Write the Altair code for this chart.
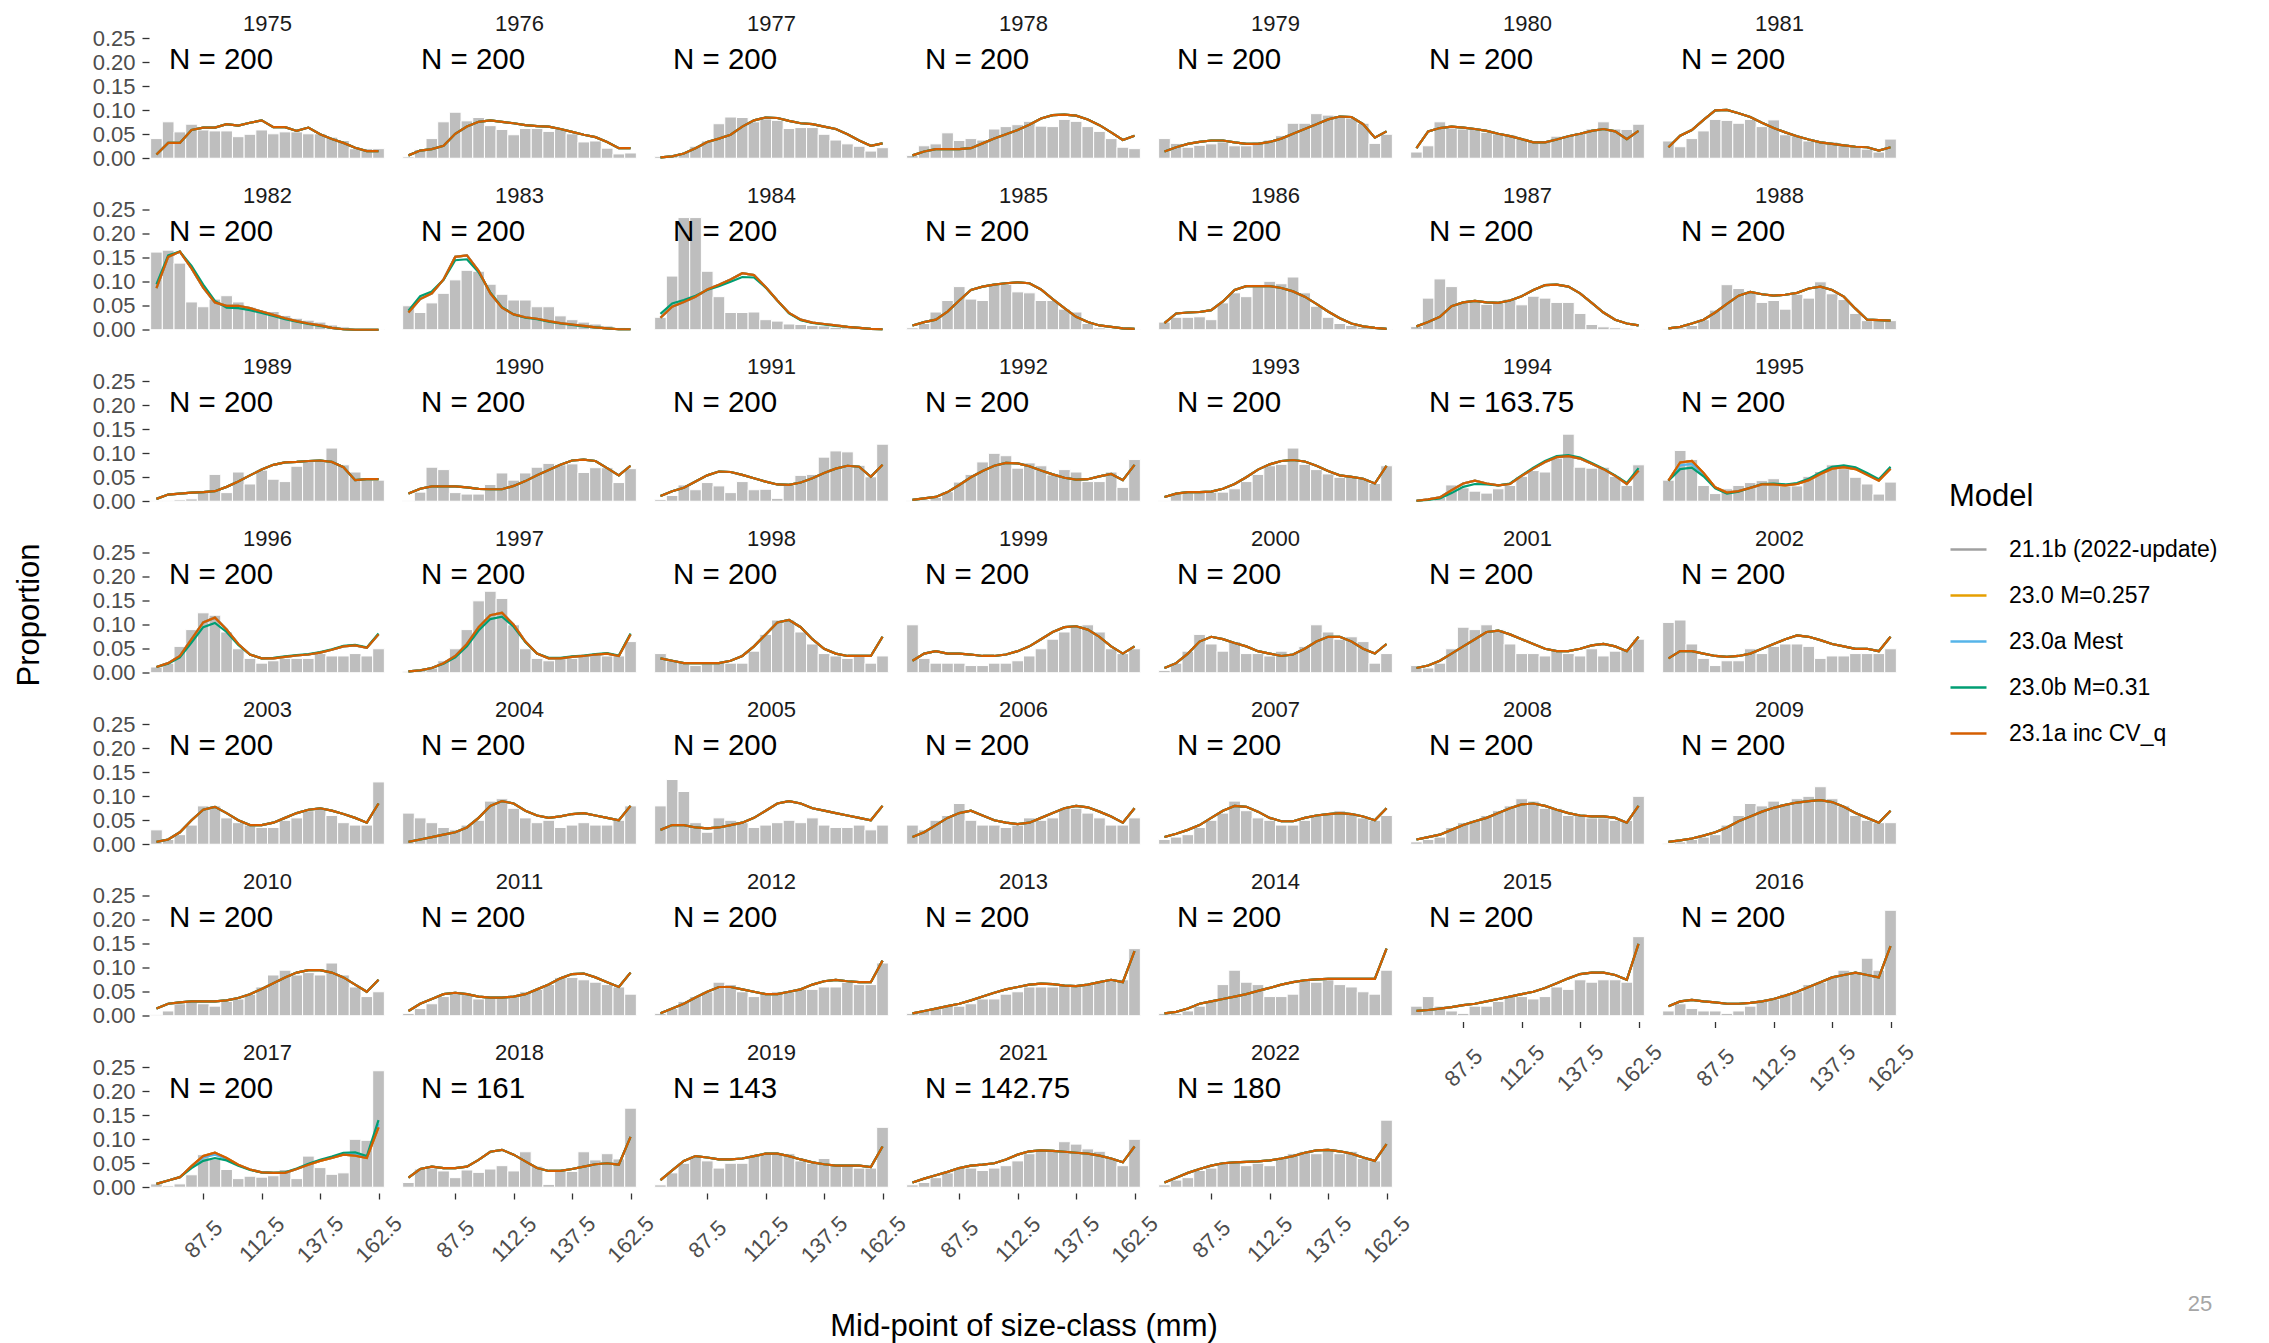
import altair as alt
import pandas as pd

FONT = "Liberation Sans"

SIZE_MID = [67.5, 72.5, 77.5, 82.5, 87.5, 92.5, 97.5, 102.5, 107.5, 112.5,
            117.5, 122.5, 127.5, 132.5, 137.5, 142.5, 147.5, 152.5, 157.5, 162.5]
YEARS = [1975, 1976, 1977, 1978, 1979, 1980, 1981,
         1982, 1983, 1984, 1985, 1986, 1987, 1988,
         1989, 1990, 1991, 1992, 1993, 1994, 1995,
         1996, 1997, 1998, 1999, 2000, 2001, 2002,
         2003, 2004, 2005, 2006, 2007, 2008, 2009,
         2010, 2011, 2012, 2013, 2014, 2015, 2016,
         2017, 2018, 2019, 2021, 2022]
N_SAMPLE = ["200", "200", "200", "200", "200", "200", "200",
            "200", "200", "200", "200", "200", "200", "200",
            "200", "200", "200", "200", "200", "163.75", "200",
            "200", "200", "200", "200", "200", "200", "200",
            "200", "200", "200", "200", "200", "200", "200",
            "200", "200", "200", "200", "200", "200", "200",
            "200", "161", "143", "142.75", "180"]
MODELS = ["21.1b (2022-update)", "23.0 M=0.257", "23.0a Mest", "23.0b M=0.31", "23.1a inc CV_q"]
MODEL_COLORS = ["#a0a0a0", "#E69F00", "#56B4E9", "#009E73", "#D55E00"]
X_TICKS = [87.5, 112.5, 137.5, 162.5]
Y_TICKS = [0.0, 0.05, 0.10, 0.15, 0.20, 0.25]

# observed proportions (bars) and fitted proportions (23.1a inc CV_q, shared by models that overlap it)
OBS_1975 = [0.041, 0.076, 0.055, 0.071, 0.059, 0.057, 0.057, 0.045, 0.050, 0.059, 0.051, 0.055, 0.055, 0.051, 0.051, 0.044, 0.037, 0.020, 0.020, 0.020]
FIT_1975 = [0.008, 0.032, 0.032, 0.059, 0.064, 0.064, 0.071, 0.068, 0.074, 0.079, 0.065, 0.065, 0.057, 0.064, 0.050, 0.040, 0.032, 0.022, 0.015, 0.015]
OBS_1976 = [0.003, 0.018, 0.041, 0.076, 0.096, 0.078, 0.085, 0.068, 0.060, 0.049, 0.062, 0.062, 0.056, 0.061, 0.051, 0.034, 0.036, 0.021, 0.009, 0.011]
FIT_1976 = [0.006, 0.016, 0.019, 0.026, 0.051, 0.066, 0.076, 0.079, 0.076, 0.073, 0.069, 0.067, 0.066, 0.061, 0.055, 0.049, 0.044, 0.034, 0.021, 0.021]
OBS_1977 = [0.004, 0.006, 0.012, 0.025, 0.036, 0.072, 0.086, 0.085, 0.076, 0.082, 0.079, 0.062, 0.064, 0.064, 0.050, 0.038, 0.030, 0.025, 0.015, 0.022]
FIT_1977 = [0.002, 0.004, 0.010, 0.021, 0.034, 0.041, 0.049, 0.066, 0.079, 0.085, 0.084, 0.078, 0.073, 0.071, 0.066, 0.061, 0.050, 0.037, 0.026, 0.031]
OBS_1978 = [0.006, 0.026, 0.030, 0.053, 0.037, 0.041, 0.038, 0.061, 0.066, 0.070, 0.077, 0.067, 0.066, 0.081, 0.077, 0.066, 0.056, 0.041, 0.023, 0.020]
FIT_1978 = [0.006, 0.014, 0.019, 0.019, 0.019, 0.021, 0.031, 0.041, 0.050, 0.059, 0.070, 0.083, 0.090, 0.091, 0.089, 0.081, 0.069, 0.054, 0.038, 0.047]
OBS_1979 = [0.041, 0.031, 0.023, 0.027, 0.030, 0.034, 0.026, 0.026, 0.034, 0.038, 0.047, 0.073, 0.073, 0.093, 0.090, 0.086, 0.084, 0.073, 0.031, 0.050]
FIT_1979 = [0.014, 0.023, 0.030, 0.034, 0.037, 0.037, 0.033, 0.030, 0.030, 0.034, 0.041, 0.051, 0.061, 0.071, 0.081, 0.087, 0.086, 0.071, 0.043, 0.056]
OBS_1980 = [0.013, 0.026, 0.076, 0.063, 0.061, 0.061, 0.054, 0.051, 0.049, 0.041, 0.034, 0.034, 0.046, 0.047, 0.054, 0.061, 0.076, 0.061, 0.060, 0.071]
FIT_1980 = [0.021, 0.056, 0.063, 0.066, 0.064, 0.061, 0.057, 0.051, 0.046, 0.040, 0.033, 0.033, 0.039, 0.046, 0.051, 0.057, 0.061, 0.056, 0.040, 0.057]
OBS_1981 = [0.036, 0.024, 0.041, 0.057, 0.081, 0.079, 0.073, 0.081, 0.066, 0.080, 0.049, 0.047, 0.036, 0.036, 0.034, 0.030, 0.027, 0.019, 0.013, 0.040]
FIT_1981 = [0.023, 0.047, 0.059, 0.080, 0.100, 0.101, 0.094, 0.086, 0.074, 0.063, 0.054, 0.046, 0.039, 0.033, 0.030, 0.027, 0.024, 0.023, 0.016, 0.023]
OBS_1982 = [0.162, 0.166, 0.139, 0.058, 0.048, 0.064, 0.071, 0.058, 0.047, 0.038, 0.038, 0.030, 0.024, 0.020, 0.016, 0.010, 0.006, 0.001, 0.001, 0.001]
FIT_1982 = [0.087, 0.152, 0.163, 0.128, 0.088, 0.057, 0.050, 0.050, 0.045, 0.038, 0.031, 0.024, 0.018, 0.013, 0.009, 0.004, 0.001, 0.000, 0.000, 0.000]
OBS_1983 = [0.050, 0.036, 0.056, 0.076, 0.104, 0.124, 0.122, 0.095, 0.074, 0.062, 0.062, 0.048, 0.048, 0.029, 0.021, 0.016, 0.012, 0.008, 0.004, 0.001]
FIT_1983 = [0.036, 0.064, 0.076, 0.105, 0.152, 0.155, 0.123, 0.076, 0.046, 0.032, 0.026, 0.023, 0.018, 0.014, 0.011, 0.008, 0.005, 0.003, 0.001, 0.001]
OBS_1984 = [0.026, 0.112, 0.234, 0.234, 0.122, 0.069, 0.036, 0.036, 0.037, 0.021, 0.018, 0.012, 0.011, 0.009, 0.008, 0.005, 0.004, 0.002, 0.001, 0.001]
FIT_1984 = [0.025, 0.048, 0.058, 0.069, 0.084, 0.094, 0.105, 0.118, 0.114, 0.089, 0.061, 0.035, 0.021, 0.015, 0.012, 0.009, 0.006, 0.004, 0.002, 0.001]
OBS_1985 = [0.004, 0.013, 0.037, 0.061, 0.090, 0.064, 0.061, 0.093, 0.095, 0.079, 0.077, 0.061, 0.061, 0.043, 0.037, 0.013, 0.004, 0.002, 0.001, 0.001]
FIT_1985 = [0.009, 0.016, 0.021, 0.038, 0.061, 0.083, 0.090, 0.094, 0.097, 0.099, 0.097, 0.084, 0.064, 0.045, 0.027, 0.016, 0.009, 0.006, 0.003, 0.002]
OBS_1986 = [0.016, 0.026, 0.026, 0.027, 0.021, 0.056, 0.077, 0.069, 0.094, 0.101, 0.096, 0.110, 0.077, 0.049, 0.026, 0.013, 0.009, 0.005, 0.002, 0.001]
FIT_1986 = [0.014, 0.034, 0.036, 0.037, 0.041, 0.059, 0.083, 0.091, 0.091, 0.091, 0.087, 0.080, 0.069, 0.054, 0.038, 0.024, 0.013, 0.007, 0.004, 0.002]
OBS_1987 = [0.007, 0.066, 0.106, 0.090, 0.057, 0.061, 0.053, 0.056, 0.064, 0.052, 0.070, 0.066, 0.057, 0.057, 0.034, 0.011, 0.006, 0.004, 0.003, 0.001]
FIT_1987 = [0.007, 0.016, 0.027, 0.049, 0.057, 0.060, 0.057, 0.056, 0.061, 0.070, 0.083, 0.093, 0.094, 0.090, 0.076, 0.056, 0.036, 0.021, 0.013, 0.009]
OBS_1988 = [0.002, 0.004, 0.009, 0.021, 0.041, 0.094, 0.086, 0.080, 0.057, 0.061, 0.043, 0.074, 0.066, 0.100, 0.075, 0.063, 0.034, 0.019, 0.019, 0.019]
FIT_1988 = [0.003, 0.006, 0.013, 0.021, 0.036, 0.054, 0.071, 0.079, 0.074, 0.071, 0.073, 0.077, 0.086, 0.090, 0.083, 0.069, 0.044, 0.021, 0.020, 0.019]
OBS_1989 = [0.001, 0.001, 0.003, 0.005, 0.022, 0.056, 0.018, 0.061, 0.036, 0.065, 0.046, 0.041, 0.073, 0.085, 0.085, 0.111, 0.076, 0.061, 0.048, 0.044]
FIT_1989 = [0.005, 0.014, 0.016, 0.018, 0.019, 0.021, 0.030, 0.041, 0.054, 0.066, 0.076, 0.081, 0.082, 0.084, 0.085, 0.082, 0.071, 0.044, 0.046, 0.046]
OBS_1990 = [0.001, 0.019, 0.071, 0.066, 0.018, 0.015, 0.015, 0.035, 0.059, 0.044, 0.059, 0.071, 0.079, 0.076, 0.078, 0.060, 0.070, 0.070, 0.039, 0.068]
FIT_1990 = [0.016, 0.026, 0.031, 0.031, 0.031, 0.029, 0.026, 0.025, 0.025, 0.032, 0.042, 0.054, 0.065, 0.076, 0.085, 0.087, 0.084, 0.069, 0.054, 0.074]
OBS_1991 = [0.004, 0.012, 0.034, 0.024, 0.039, 0.032, 0.018, 0.041, 0.024, 0.025, 0.006, 0.034, 0.054, 0.056, 0.092, 0.105, 0.103, 0.075, 0.051, 0.119]
FIT_1991 = [0.011, 0.021, 0.028, 0.041, 0.054, 0.062, 0.061, 0.055, 0.048, 0.041, 0.035, 0.034, 0.039, 0.048, 0.059, 0.068, 0.074, 0.072, 0.051, 0.076]
OBS_1992 = [0.001, 0.003, 0.008, 0.020, 0.040, 0.056, 0.082, 0.100, 0.095, 0.069, 0.080, 0.074, 0.055, 0.066, 0.061, 0.041, 0.041, 0.061, 0.029, 0.087]
FIT_1992 = [0.003, 0.006, 0.009, 0.019, 0.034, 0.050, 0.063, 0.074, 0.080, 0.079, 0.073, 0.064, 0.056, 0.049, 0.045, 0.046, 0.052, 0.057, 0.044, 0.076]
OBS_1993 = [0.001, 0.014, 0.021, 0.019, 0.019, 0.019, 0.026, 0.041, 0.056, 0.074, 0.077, 0.111, 0.077, 0.066, 0.057, 0.050, 0.050, 0.047, 0.037, 0.074]
FIT_1993 = [0.009, 0.016, 0.019, 0.019, 0.020, 0.026, 0.036, 0.050, 0.066, 0.077, 0.084, 0.086, 0.083, 0.074, 0.063, 0.054, 0.051, 0.047, 0.037, 0.074]
OBS_1994 = [0.001, 0.002, 0.008, 0.034, 0.028, 0.021, 0.017, 0.026, 0.033, 0.052, 0.064, 0.061, 0.090, 0.140, 0.071, 0.069, 0.071, 0.052, 0.033, 0.076]
FIT_1994 = [0.001, 0.004, 0.008, 0.023, 0.037, 0.043, 0.037, 0.033, 0.036, 0.053, 0.068, 0.082, 0.092, 0.094, 0.089, 0.078, 0.067, 0.053, 0.036, 0.064]
OBS_1995 = [0.044, 0.106, 0.087, 0.033, 0.016, 0.026, 0.033, 0.039, 0.043, 0.047, 0.032, 0.032, 0.052, 0.062, 0.076, 0.068, 0.050, 0.036, 0.015, 0.040]
FIT_1995 = [0.043, 0.081, 0.084, 0.059, 0.029, 0.018, 0.021, 0.028, 0.035, 0.035, 0.033, 0.036, 0.044, 0.057, 0.068, 0.071, 0.067, 0.055, 0.043, 0.068]
OBS_1996 = [0.012, 0.020, 0.055, 0.090, 0.125, 0.120, 0.085, 0.050, 0.030, 0.020, 0.025, 0.030, 0.030, 0.030, 0.040, 0.035, 0.035, 0.040, 0.035, 0.050]
FIT_1996 = [0.012, 0.020, 0.035, 0.070, 0.105, 0.115, 0.090, 0.060, 0.038, 0.030, 0.030, 0.033, 0.036, 0.038, 0.042, 0.048, 0.055, 0.057, 0.052, 0.080]
OBS_1997 = [0.003, 0.005, 0.010, 0.025, 0.050, 0.090, 0.150, 0.170, 0.155, 0.100, 0.050, 0.030, 0.025, 0.030, 0.030, 0.035, 0.040, 0.035, 0.035, 0.065]
FIT_1997 = [0.003, 0.005, 0.010, 0.020, 0.035, 0.060, 0.095, 0.120, 0.125, 0.100, 0.065, 0.040, 0.030, 0.030, 0.033, 0.035, 0.038, 0.040, 0.035, 0.080]
OBS_1998 = [0.040, 0.025, 0.020, 0.015, 0.020, 0.020, 0.020, 0.020, 0.045, 0.080, 0.110, 0.110, 0.085, 0.060, 0.040, 0.035, 0.030, 0.035, 0.020, 0.035]
FIT_1998 = [0.030, 0.025, 0.020, 0.020, 0.020, 0.020, 0.025, 0.035, 0.055, 0.080, 0.105, 0.110, 0.095, 0.070, 0.050, 0.040, 0.035, 0.035, 0.035, 0.075]
OBS_1999 = [0.100, 0.030, 0.020, 0.020, 0.020, 0.015, 0.015, 0.020, 0.020, 0.025, 0.035, 0.050, 0.070, 0.085, 0.095, 0.100, 0.085, 0.050, 0.040, 0.050]
FIT_1999 = [0.025, 0.040, 0.045, 0.040, 0.040, 0.038, 0.035, 0.035, 0.038, 0.045, 0.055, 0.070, 0.085, 0.095, 0.097, 0.090, 0.075, 0.055, 0.040, 0.055]
OBS_2000 = [0.005, 0.020, 0.045, 0.080, 0.060, 0.045, 0.065, 0.040, 0.040, 0.035, 0.045, 0.040, 0.055, 0.100, 0.085, 0.070, 0.075, 0.065, 0.020, 0.040]
FIT_2000 = [0.010, 0.020, 0.040, 0.065, 0.075, 0.070, 0.062, 0.055, 0.045, 0.040, 0.035, 0.038, 0.050, 0.065, 0.075, 0.075, 0.065, 0.050, 0.040, 0.060]
OBS_2001 = [0.015, 0.010, 0.020, 0.050, 0.095, 0.090, 0.100, 0.090, 0.060, 0.040, 0.040, 0.035, 0.045, 0.040, 0.035, 0.050, 0.035, 0.045, 0.050, 0.070]
FIT_2001 = [0.010, 0.015, 0.025, 0.040, 0.055, 0.070, 0.085, 0.088, 0.080, 0.070, 0.060, 0.050, 0.045, 0.045, 0.050, 0.057, 0.060, 0.055, 0.045, 0.075]
OBS_2002 = [0.105, 0.110, 0.060, 0.030, 0.015, 0.025, 0.025, 0.050, 0.040, 0.055, 0.060, 0.060, 0.055, 0.030, 0.035, 0.035, 0.040, 0.040, 0.040, 0.050]
FIT_2002 = [0.030, 0.045, 0.045, 0.040, 0.035, 0.033, 0.035, 0.040, 0.050, 0.060, 0.070, 0.078, 0.075, 0.068, 0.060, 0.055, 0.050, 0.050, 0.045, 0.075]
OBS_2003 = [0.030, 0.010, 0.020, 0.040, 0.080, 0.080, 0.055, 0.045, 0.040, 0.035, 0.035, 0.050, 0.055, 0.070, 0.075, 0.060, 0.045, 0.040, 0.040, 0.130]
FIT_2003 = [0.005, 0.010, 0.025, 0.050, 0.072, 0.078, 0.065, 0.050, 0.040, 0.040, 0.045, 0.055, 0.065, 0.072, 0.075, 0.070, 0.063, 0.055, 0.045, 0.085]
OBS_2004 = [0.065, 0.055, 0.045, 0.035, 0.030, 0.040, 0.050, 0.090, 0.095, 0.075, 0.055, 0.045, 0.050, 0.035, 0.040, 0.045, 0.040, 0.040, 0.050, 0.080]
FIT_2004 = [0.005, 0.010, 0.015, 0.020, 0.025, 0.035, 0.055, 0.080, 0.090, 0.085, 0.070, 0.060, 0.055, 0.058, 0.063, 0.065, 0.060, 0.055, 0.050, 0.080]
OBS_2005 = [0.080, 0.135, 0.110, 0.045, 0.025, 0.055, 0.050, 0.045, 0.035, 0.040, 0.045, 0.050, 0.045, 0.055, 0.040, 0.035, 0.035, 0.040, 0.030, 0.040]
FIT_2005 = [0.030, 0.040, 0.040, 0.035, 0.033, 0.035, 0.040, 0.045, 0.055, 0.070, 0.085, 0.090, 0.085, 0.075, 0.070, 0.065, 0.060, 0.055, 0.050, 0.080]
OBS_2006 = [0.040, 0.030, 0.050, 0.060, 0.085, 0.050, 0.040, 0.040, 0.035, 0.040, 0.055, 0.050, 0.055, 0.075, 0.075, 0.065, 0.055, 0.040, 0.040, 0.055]
FIT_2006 = [0.015, 0.025, 0.040, 0.055, 0.065, 0.070, 0.060, 0.050, 0.045, 0.042, 0.045, 0.055, 0.065, 0.075, 0.080, 0.077, 0.068, 0.058, 0.045, 0.075]
OBS_2007 = [0.010, 0.015, 0.020, 0.035, 0.050, 0.065, 0.090, 0.070, 0.055, 0.050, 0.040, 0.040, 0.050, 0.060, 0.065, 0.070, 0.065, 0.055, 0.050, 0.060]
FIT_2007 = [0.015, 0.022, 0.030, 0.040, 0.055, 0.070, 0.080, 0.078, 0.068, 0.055, 0.048, 0.048, 0.055, 0.060, 0.063, 0.065, 0.063, 0.058, 0.050, 0.075]
OBS_2008 = [0.005, 0.010, 0.015, 0.035, 0.045, 0.050, 0.060, 0.070, 0.080, 0.095, 0.090, 0.075, 0.075, 0.060, 0.060, 0.055, 0.055, 0.050, 0.050, 0.100]
FIT_2008 = [0.010, 0.015, 0.020, 0.030, 0.040, 0.048, 0.055, 0.065, 0.075, 0.083, 0.085, 0.080, 0.072, 0.065, 0.060, 0.058, 0.058, 0.055, 0.045, 0.080]
OBS_2009 = [0.002, 0.005, 0.010, 0.015, 0.020, 0.040, 0.060, 0.085, 0.080, 0.090, 0.085, 0.095, 0.100, 0.120, 0.095, 0.080, 0.060, 0.050, 0.045, 0.045]
FIT_2009 = [0.005, 0.008, 0.012, 0.018, 0.025, 0.035, 0.048, 0.058, 0.068, 0.076, 0.082, 0.087, 0.090, 0.092, 0.088, 0.078, 0.065, 0.055, 0.045, 0.070]
OBS_2010 = [0.002, 0.010, 0.025, 0.030, 0.025, 0.020, 0.030, 0.035, 0.045, 0.060, 0.085, 0.095, 0.085, 0.090, 0.085, 0.110, 0.085, 0.060, 0.040, 0.050]
FIT_2010 = [0.015, 0.025, 0.028, 0.030, 0.030, 0.030, 0.032, 0.037, 0.045, 0.056, 0.068, 0.080, 0.090, 0.095, 0.095, 0.090, 0.080, 0.065, 0.050, 0.075]
OBS_2011 = [0.005, 0.015, 0.025, 0.040, 0.050, 0.045, 0.035, 0.040, 0.040, 0.040, 0.050, 0.055, 0.065, 0.080, 0.080, 0.075, 0.070, 0.065, 0.060, 0.045]
FIT_2011 = [0.010, 0.025, 0.035, 0.045, 0.048, 0.045, 0.040, 0.038, 0.038, 0.040, 0.045, 0.055, 0.065, 0.078, 0.087, 0.088, 0.080, 0.070, 0.060, 0.090]
OBS_2012 = [0.005, 0.015, 0.030, 0.040, 0.050, 0.070, 0.065, 0.050, 0.040, 0.045, 0.050, 0.050, 0.055, 0.055, 0.060, 0.060, 0.070, 0.065, 0.065, 0.110]
FIT_2012 = [0.005, 0.015, 0.025, 0.038, 0.050, 0.060, 0.060, 0.055, 0.050, 0.045, 0.045, 0.050, 0.055, 0.065, 0.072, 0.075, 0.072, 0.070, 0.070, 0.115]
OBS_2013 = [0.005, 0.010, 0.015, 0.020, 0.020, 0.025, 0.035, 0.035, 0.045, 0.050, 0.060, 0.060, 0.060, 0.065, 0.065, 0.065, 0.070, 0.075, 0.075, 0.140]
FIT_2013 = [0.005, 0.010, 0.015, 0.020, 0.025, 0.032, 0.040, 0.048, 0.055, 0.060, 0.065, 0.067, 0.066, 0.063, 0.062, 0.065, 0.070, 0.075, 0.070, 0.135]
OBS_2014 = [0.005, 0.005, 0.010, 0.020, 0.030, 0.065, 0.095, 0.070, 0.065, 0.040, 0.040, 0.045, 0.075, 0.070, 0.075, 0.065, 0.060, 0.050, 0.045, 0.095]
FIT_2014 = [0.005, 0.008, 0.015, 0.025, 0.030, 0.035, 0.040, 0.045, 0.052, 0.058, 0.065, 0.070, 0.074, 0.076, 0.077, 0.077, 0.077, 0.077, 0.077, 0.140]
OBS_2015 = [0.020, 0.040, 0.020, 0.010, 0.005, 0.020, 0.020, 0.030, 0.040, 0.040, 0.035, 0.040, 0.060, 0.055, 0.075, 0.070, 0.075, 0.075, 0.070, 0.165]
FIT_2015 = [0.010, 0.012, 0.015, 0.018, 0.022, 0.025, 0.030, 0.035, 0.040, 0.045, 0.050, 0.058, 0.068, 0.078, 0.087, 0.090, 0.090, 0.085, 0.075, 0.150]
OBS_2016 = [0.010, 0.025, 0.015, 0.010, 0.010, 0.005, 0.010, 0.020, 0.030, 0.035, 0.045, 0.050, 0.065, 0.070, 0.080, 0.095, 0.090, 0.120, 0.095, 0.220]
FIT_2016 = [0.020, 0.030, 0.033, 0.030, 0.028, 0.025, 0.025, 0.027, 0.030, 0.035, 0.042, 0.050, 0.060, 0.070, 0.080, 0.085, 0.090, 0.085, 0.080, 0.145]
OBS_2017 = [0.007, 0.003, 0.007, 0.026, 0.068, 0.059, 0.037, 0.018, 0.023, 0.021, 0.024, 0.037, 0.018, 0.065, 0.041, 0.027, 0.030, 0.100, 0.098, 0.243]
FIT_2017 = [0.007, 0.014, 0.021, 0.044, 0.065, 0.072, 0.061, 0.047, 0.037, 0.031, 0.030, 0.030, 0.038, 0.047, 0.055, 0.061, 0.068, 0.066, 0.061, 0.125]
OBS_2018 = [0.010, 0.038, 0.040, 0.034, 0.020, 0.036, 0.031, 0.038, 0.045, 0.034, 0.074, 0.044, 0.006, 0.034, 0.033, 0.074, 0.057, 0.070, 0.059, 0.165]
FIT_2018 = [0.020, 0.038, 0.043, 0.040, 0.040, 0.043, 0.057, 0.074, 0.078, 0.068, 0.054, 0.040, 0.034, 0.034, 0.038, 0.043, 0.048, 0.050, 0.047, 0.105]
OBS_2019 = [0.005, 0.030, 0.050, 0.065, 0.055, 0.040, 0.050, 0.050, 0.065, 0.070, 0.070, 0.070, 0.055, 0.050, 0.060, 0.045, 0.045, 0.040, 0.040, 0.125]
FIT_2019 = [0.015, 0.035, 0.055, 0.065, 0.062, 0.058, 0.058, 0.060, 0.065, 0.070, 0.070, 0.065, 0.058, 0.052, 0.048, 0.045, 0.045, 0.045, 0.042, 0.085]
OBS_2021 = [0.005, 0.010, 0.020, 0.030, 0.040, 0.040, 0.035, 0.040, 0.045, 0.055, 0.070, 0.075, 0.075, 0.095, 0.090, 0.080, 0.075, 0.060, 0.045, 0.100]
FIT_2021 = [0.010, 0.018, 0.025, 0.032, 0.040, 0.045, 0.047, 0.050, 0.058, 0.068, 0.075, 0.077, 0.076, 0.074, 0.072, 0.070, 0.066, 0.060, 0.052, 0.085]
OBS_2022 = [0.005, 0.015, 0.020, 0.035, 0.040, 0.050, 0.055, 0.045, 0.050, 0.045, 0.060, 0.070, 0.075, 0.070, 0.080, 0.070, 0.075, 0.060, 0.055, 0.140]
FIT_2022 = [0.010, 0.020, 0.030, 0.038, 0.045, 0.050, 0.052, 0.053, 0.054, 0.056, 0.060, 0.065, 0.072, 0.077, 0.078, 0.075, 0.070, 0.062, 0.055, 0.090]

# 23.0b M=0.31 where it visibly departs from the other fits
GRN_1982 = [0.095, 0.155, 0.163, 0.133, 0.094, 0.060, 0.046, 0.045, 0.041, 0.035, 0.029, 0.022, 0.017, 0.012, 0.008, 0.004, 0.001, 0.000, 0.000, 0.000]
GRN_1983 = [0.040, 0.070, 0.080, 0.104, 0.145, 0.147, 0.120, 0.078, 0.047, 0.032, 0.025, 0.022, 0.017, 0.013, 0.010, 0.007, 0.005, 0.003, 0.001, 0.001]
GRN_1984 = [0.033, 0.055, 0.062, 0.071, 0.083, 0.091, 0.100, 0.110, 0.109, 0.088, 0.061, 0.034, 0.020, 0.014, 0.011, 0.008, 0.006, 0.004, 0.002, 0.001]
GRN_1994 = [0.001, 0.003, 0.006, 0.017, 0.030, 0.036, 0.035, 0.033, 0.037, 0.054, 0.070, 0.084, 0.094, 0.096, 0.091, 0.080, 0.068, 0.054, 0.038, 0.069]
GRN_1995 = [0.043, 0.067, 0.070, 0.052, 0.027, 0.016, 0.020, 0.028, 0.036, 0.037, 0.035, 0.038, 0.047, 0.060, 0.072, 0.075, 0.071, 0.059, 0.046, 0.072]
GRN_1996 = [0.012, 0.019, 0.032, 0.063, 0.095, 0.104, 0.085, 0.058, 0.038, 0.030, 0.031, 0.034, 0.037, 0.039, 0.043, 0.049, 0.056, 0.058, 0.053, 0.082]
GRN_1997 = [0.003, 0.005, 0.010, 0.019, 0.032, 0.055, 0.088, 0.112, 0.117, 0.096, 0.064, 0.040, 0.031, 0.031, 0.034, 0.036, 0.039, 0.041, 0.036, 0.082]
GRN_2017 = [0.007, 0.014, 0.021, 0.040, 0.055, 0.061, 0.056, 0.045, 0.036, 0.031, 0.030, 0.031, 0.039, 0.049, 0.057, 0.064, 0.072, 0.073, 0.065, 0.140]
# 23.0a Mest where it shows between the others
BLU_1995 = [0.043, 0.075, 0.078, 0.056, 0.028, 0.017, 0.021, 0.028, 0.035, 0.036, 0.034, 0.037, 0.045, 0.058, 0.070, 0.073, 0.069, 0.057, 0.044, 0.070]
BLU_2017 = [0.007, 0.014, 0.021, 0.043, 0.062, 0.068, 0.059, 0.046, 0.037, 0.031, 0.030, 0.030, 0.038, 0.048, 0.056, 0.062, 0.070, 0.069, 0.063, 0.132]

PAGE_NUMBER = "25"

obs_rows, fit_rows, lab_rows = [], [], []
for yr, n in zip(YEARS, N_SAMPLE):
    obs = globals()[f"OBS_{yr}"]
    fit = globals()[f"FIT_{yr}"]
    grn = globals().get(f"GRN_{yr}", fit)
    blu = globals().get(f"BLU_{yr}", fit)
    series = [fit, fit, blu, grn, fit]
    for mid, v in zip(SIZE_MID, obs):
        obs_rows.append({"year": yr, "mid": mid, "prop": v})
    for m, vals in zip(MODELS, series):
        for mid, v in zip(SIZE_MID, vals):
            fit_rows.append({"year": yr, "model": m, "mid": mid, "prop": v})
    lab_rows.append({"year": yr, "label": f"N = {n}", "title": str(yr)})
obs_df = pd.DataFrame(obs_rows)
fit_df = pd.DataFrame(fit_rows)
lab_df = pd.DataFrame(lab_rows)
page_df = pd.DataFrame({"label": [PAGE_NUMBER]})

PANEL_W, PANEL_H = 237, 128
XS = alt.Scale(domain=[64.3, 165.7], nice=False, zero=False)
YS = alt.Scale(domain=[-0.012, 0.255], nice=False, zero=False)
CS = alt.Scale(domain=MODELS, range=MODEL_COLORS)
LEG = alt.Legend(title="Model", orient="none", legendX=1800, legendY=446,
                 symbolType="stroke", symbolSize=1296, symbolStrokeWidth=2.5,
                 labelFont=FONT, labelFontSize=23, labelColor="#000000", labelOffset=21,
                 labelLimit=0,
                 titleFont=FONT, titleFontSize=31, titleFontWeight="normal", titleColor="#000000",
                 titlePadding=17, rowPadding=14, padding=0)


def x_axis(title):
    return alt.Axis(values=X_TICKS, format=".1f", labelAngle=315, labelAlign="center",
                    labelBaseline="middle", labelPadding=40, labelFont=FONT, labelFontSize=22,
                    labelColor="#4d4d4d", labelOverlap=False, labelFlush=False,
                    tickSize=6, tickColor="#333333", tickWidth=1.3, domain=False, grid=False,
                    title=title, titleFont=FONT, titleFontSize=31, titleFontWeight="normal",
                    titleColor="#000000", titlePadding=45)


def y_axis(title):
    return alt.Axis(values=Y_TICKS, format=".2f", labelPadding=7, labelFont=FONT, labelFontSize=22,
                    labelColor="#4d4d4d", labelOverlap=False, labelFlush=False,
                    tickSize=7, tickColor="#333333", tickWidth=1.3, domain=False, grid=False,
                    title=title, titleFont=FONT, titleFontSize=31, titleFontWeight="normal",
                    titleColor="#000000", titlePadding=47)


def panel(idx, yr):
    col, row = idx % 7, idx // 7
    bottom = row == 6 or yr in (2015, 2016)
    xax = x_axis("Mid-point of size-class (mm)" if yr == 2021 else "") if bottom else None
    yax = y_axis("Proportion" if yr == 1996 else "") if col == 0 else None
    bars = (alt.Chart(obs_df)
            .transform_filter(alt.datum.year == yr)
            .transform_calculate(lo="datum.mid - 2.5", hi="datum.mid + 2.5")
            .mark_bar(fill="#bebebe", stroke="#ffffff", strokeWidth=1)
            .encode(x=alt.X("lo:Q", scale=XS, axis=xax), x2="hi:Q",
                    y=alt.Y("prop:Q", scale=YS, axis=yax), y2=alt.datum(0)))
    layers = [bars]
    for m in MODELS:
        layers.append(
            alt.Chart(fit_df)
            .transform_filter((alt.datum.year == yr) & (alt.datum.model == m))
            .mark_line(strokeWidth=2.2)
            .encode(x=alt.X("mid:Q", scale=XS, axis=xax),
                    y=alt.Y("prop:Q", scale=YS, axis=yax),
                    color=alt.Color("model:N", scale=CS, legend=LEG)))
    labels = alt.Chart(lab_df).transform_filter(alt.datum.year == yr)
    layers.append(
        labels.mark_text(align="left", baseline="middle", font=FONT, fontSize=29.5, color="#000000")
        .encode(text="label:N", x=alt.value(20), y=alt.value(24)))
    # strip title (year) above the panel
    layers.append(
        labels.mark_text(align="center", baseline="middle", font=FONT, fontSize=22, color="#1a1a1a")
        .encode(text="title:N", x=alt.value(PANEL_W / 2), y=alt.value(-12)))
    if yr == 2016:
        layers.append(
            alt.Chart(page_df)
            .mark_text(align="center", baseline="middle", font=FONT, fontSize=22, color="#a6a6a6")
            .encode(text="label:N", x=alt.value(539), y=alt.value(410)))
    return alt.layer(*layers).properties(width=PANEL_W, height=PANEL_H)


panels = [panel(i, yr) for i, yr in enumerate(YEARS)]

chart = (alt.concat(*panels, columns=7, spacing={"row": 43.5, "column": 15}, bounds="flush")
         .configure(background="#ffffff")
         .configure_view(stroke="transparent", strokeWidth=0))

chart.save("out.html", embed_options={"renderer": "svg", "actions": False})
